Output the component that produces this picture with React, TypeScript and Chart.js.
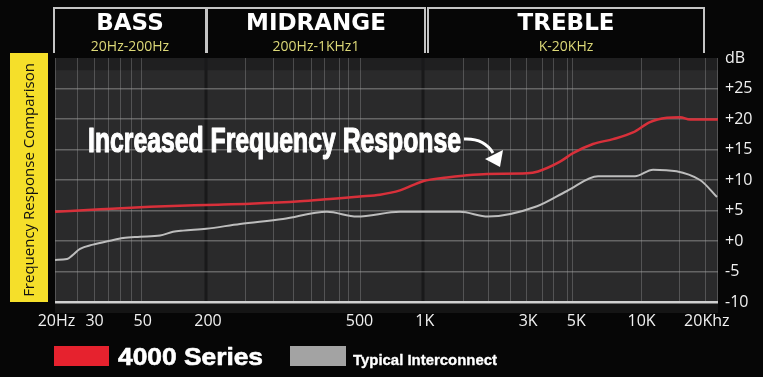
import React, { useEffect, useRef } from "react";
import { Chart, registerables } from "chart.js";

Chart.register(...registerables);

// ---------- data ----------
const seriesNames = ["4000 Series", "Typical Interconnect"];
const lineColors = ["#d8303a", "#bdbdbd"];
const swatchColors = ["#e6222e", "#a3a3a3"];

const redFreq = [19.7, 32, 54, 98, 156, 266, 366, 503, 622, 769, 982, 1267, 1502, 1938, 2963, 3331, 4207, 4830, 5973, 7388, 9135, 10940, 13110, 15050, 16730, 22500];
const redDb = [4.8, 5.2, 5.6, 5.9, 6.1, 6.5, 6.9, 7.3, 7.6, 8.3, 9.8, 10.4, 10.7, 11.0, 11.1, 11.4, 13.0, 14.4, 15.9, 16.7, 17.8, 19.5, 20.2, 20.3, 19.9, 19.9];

const grayFreq = [19.7, 22.4, 23.6, 25.7, 29.5, 35.3, 40.6, 48.6, 60.1, 69.0, 76.7, 98, 140.6, 222, 354, 487, 769, 1454, 1958, 3296, 4532, 6300, 9333, 11298, 18610, 22290];
const grayDb = [-3.1, -2.95, -2.4, -1.3, -0.6, 0.05, 0.5, 0.7, 0.9, 1.5, 1.7, 2.0, 2.8, 3.6, 4.8, 4.0, 4.8, 4.8, 4.0, 5.7, 8.2, 10.6, 10.6, 11.7, 10.0, 7.2];

const xMin = 19.7;
const xMax = 22530;
const xTickValues = [20, 30, 50, 100, 500, 1000, 3000, 5000, 10000, 20000];
const xTickLabels = ["20Hz", "30", "50", "200", "500", "1K", "3K", "5K", "10K", "20Khz"];

const yMin = -10;
const yMax = 30;
const yTickValues = [-10, -5, 0, 5, 10, 15, 20, 25, 30];
const yTickLabels = ["-10", "-5", "+0", "+5", "+10", "+15", "+20", "+25", "dB"];

// vertical grid lines (frequencies) as drawn in the picture
const gridFreqs = [19.7, 24.9, 29.8, 34.6, 39.3, 44.2, 49.1, 148, 200, 247, 299, 343, 402, 443, 503, 1502, 1958, 2474, 2932, 3475, 3906, 4532, 4778, 9945, 14890, 19630, 22300];
const bandEdges = [98, 982];

const bandTitles = ["BASS", "MIDRANGE", "TREBLE"];
const bandRanges = ["20Hz-200Hz", "200Hz-1KHz1", "K-20KHz"];
const bandFrom = [19.7, 100, 1046];
const bandTo = [98, 1003, 19410];

const sideTitle = "Frequency Response Comparison";
const annotation = "Increased Frequency Response";

function fitText(ctx: CanvasRenderingContext2D, text: string, x: number, y: number, w: number, font: string, stroke = 0) {
  ctx.font = font;
  const m = ctx.measureText(text).width;
  ctx.save();
  ctx.translate(x, y);
  ctx.scale(w / m, 1);
  ctx.textAlign = "left";
  ctx.fillText(text, 0, 0);
  if (stroke > 0) {
    ctx.lineWidth = stroke;
    ctx.strokeStyle = ctx.fillStyle;
    ctx.lineJoin = "round";
    ctx.strokeText(text, 0, 0);
  }
  ctx.restore();
}

const decorPlugin = {
  id: "decor",
  beforeDraw(chart: any) {
    const { ctx, chartArea: a, scales } = chart;
    const xs = scales.x;
    const ys = scales.y;
    ctx.save();
    ctx.fillStyle = "#060606";
    ctx.fillRect(0, 0, chart.width, chart.height);
    ctx.fillStyle = "#2a2a2b";
    ctx.fillRect(a.left, a.top, a.right - a.left, a.bottom - a.top);
    ctx.fillStyle = "#1f1f20";
    ctx.fillRect(a.left, a.top, a.right - a.left, ys.getPixelForValue(28) - a.top);
    ctx.fillStyle = "#151515";
    ctx.fillRect(a.left, a.bottom, a.right - a.left, 11);
    ctx.strokeStyle = "rgba(255,255,255,0.2)";
    ctx.lineWidth = 1;
    gridFreqs.forEach((f) => {
      const px = Math.round(xs.getPixelForValue(f)) + 0.5;
      ctx.beginPath();
      ctx.moveTo(px, a.top);
      ctx.lineTo(px, a.bottom);
      ctx.stroke();
    });
    ctx.strokeStyle = "#19191a";
    ctx.lineWidth = 3;
    bandEdges.forEach((f) => {
      const px = Math.round(xs.getPixelForValue(f));
      ctx.beginPath();
      ctx.moveTo(px, a.top);
      ctx.lineTo(px, a.bottom);
      ctx.stroke();
    });
    ctx.restore();
  },
  afterDraw(chart: any) {
    const { ctx, chartArea: a, scales } = chart;
    const xs = scales.x;
    ctx.save();
    // header boxes
    bandTitles.forEach((t, i) => {
      const l = Math.round(xs.getPixelForValue(bandFrom[i])) - 1;
      const r = Math.round(xs.getPixelForValue(bandTo[i]));
      ctx.strokeStyle = "#c4c4c4";
      ctx.lineWidth = 2;
      ctx.beginPath();
      ctx.moveTo(l, a.top - 5);
      ctx.lineTo(l, 8);
      ctx.lineTo(r, 8);
      ctx.lineTo(r, a.top - 5);
      ctx.stroke();
      ctx.textAlign = "center";
      ctx.textBaseline = "alphabetic";
      ctx.fillStyle = "#ffffff";
      ctx.font = "bold 23px 'DejaVu Sans'";
      ctx.fillText(t, (l + r) / 2, 30);
      ctx.fillStyle = "#dcd878";
      ctx.font = "14px 'Open Sans'";
      ctx.fillText(bandRanges[i], (l + r) / 2, 51);
    });
    // side title
    ctx.fillStyle = "#f5df2a";
    ctx.fillRect(10, a.top - 5, 38, a.bottom - a.top + 5);
    ctx.save();
    ctx.translate(29.5, (a.top + a.bottom) / 2);
    ctx.rotate(-Math.PI / 2);
    ctx.fillStyle = "#111111";
    ctx.textAlign = "center";
    ctx.textBaseline = "middle";
    ctx.font = "15px 'Open Sans'";
    ctx.fillText(sideTitle, 0, 0);
    ctx.restore();
    // annotation
    ctx.fillStyle = "#ffffff";
    ctx.textBaseline = "alphabetic";
    fitText(ctx, annotation, 88, 152, 373, "bold 35px 'Liberation Sans'", 1.2);
    ctx.strokeStyle = "#ffffff";
    ctx.lineWidth = 3;
    ctx.beginPath();
    ctx.moveTo(464, 139);
    ctx.quadraticCurveTo(484, 138, 493, 153);
    ctx.stroke();
    ctx.beginPath();
    ctx.moveTo(485, 159);
    ctx.lineTo(503, 150);
    ctx.lineTo(500, 167);
    ctx.closePath();
    ctx.fill();
    // legend
    ctx.fillStyle = swatchColors[0];
    ctx.fillRect(54, 346, 55, 20);
    ctx.fillStyle = "#ffffff";
    fitText(ctx, seriesNames[0], 118, 365, 145, "bold 24px 'Liberation Sans'", 0.6);
    ctx.fillStyle = swatchColors[1];
    ctx.fillRect(290, 346, 56, 20);
    ctx.fillStyle = "#ffffff";
    fitText(ctx, seriesNames[1], 353, 365, 144, "bold 14px 'Liberation Sans'", 0.3);
    ctx.restore();
  },
};

export default function App() {
  const ref = useRef<HTMLCanvasElement>(null);
  useEffect(() => {
    const chart = new Chart(ref.current as HTMLCanvasElement, {
      type: "line",
      data: {
        datasets: [
          {
            label: seriesNames[0],
            data: redFreq.map((f, i) => ({ x: f, y: redDb[i] })),
            borderColor: lineColors[0],
            borderWidth: 2.5,
            cubicInterpolationMode: "monotone",
            pointRadius: 0,
            fill: false,
          },
          {
            label: seriesNames[1],
            data: grayFreq.map((f, i) => ({ x: f, y: grayDb[i] })),
            borderColor: lineColors[1],
            borderWidth: 2,
            cubicInterpolationMode: "monotone",
            pointRadius: 0,
            fill: false,
          },
        ],
      },
      options: {
        responsive: false,
        animation: false,
        devicePixelRatio: 1,
        layout: { padding: { left: 55, top: 58, right: 0, bottom: 0 } },
        plugins: { legend: { display: false }, tooltip: { enabled: false } },
        scales: {
          x: {
            type: "logarithmic",
            min: xMin,
            max: xMax,
            afterBuildTicks: (s: any) => {
              s.ticks = xTickValues.map((v) => ({ value: v }));
            },
            afterFit: (s: any) => {
              s.height = 75;
            },
            grid: { display: false, drawTicks: false },
            border: { display: false },
            ticks: {
              autoSkip: false,
              maxRotation: 0,
              padding: 10,
              color: "#f0f0f0",
              font: { family: "'Open Sans'", size: 16 },
              callback: (_v: any, i: number) => xTickLabels[i],
            },
          },
          y: {
            position: "right",
            min: yMin,
            max: yMax,
            afterBuildTicks: (s: any) => {
              s.ticks = yTickValues.map((v) => ({ value: v }));
            },
            afterFit: (s: any) => {
              s.width = 45;
            },
            border: { display: false },
            grid: {
              drawTicks: false,
              color: (c: any) =>
                c.tick && c.tick.value === -10 ? "#d0d0d0" : c.tick && c.tick.value === 30 ? "rgba(0,0,0,0)" : "rgba(160,160,160,0.5)",
              lineWidth: (c: any) => (c.tick && c.tick.value === -10 ? 2.5 : 1.5),
            },
            ticks: {
              padding: 7,
              color: "#f0f0f0",
              font: { family: "'Open Sans'", size: 16 },
              callback: (_v: any, i: number) => yTickLabels[i],
            },
          },
        },
      } as any,
      plugins: [decorPlugin],
    });
    return () => chart.destroy();
  }, []);
  return (
    <div style={{ position: "fixed", left: 0, top: 0, width: 763, height: 377, background: "#060606" }}>
      <canvas ref={ref} width={763} height={377} style={{ display: "block" }} />
    </div>
  );
}
